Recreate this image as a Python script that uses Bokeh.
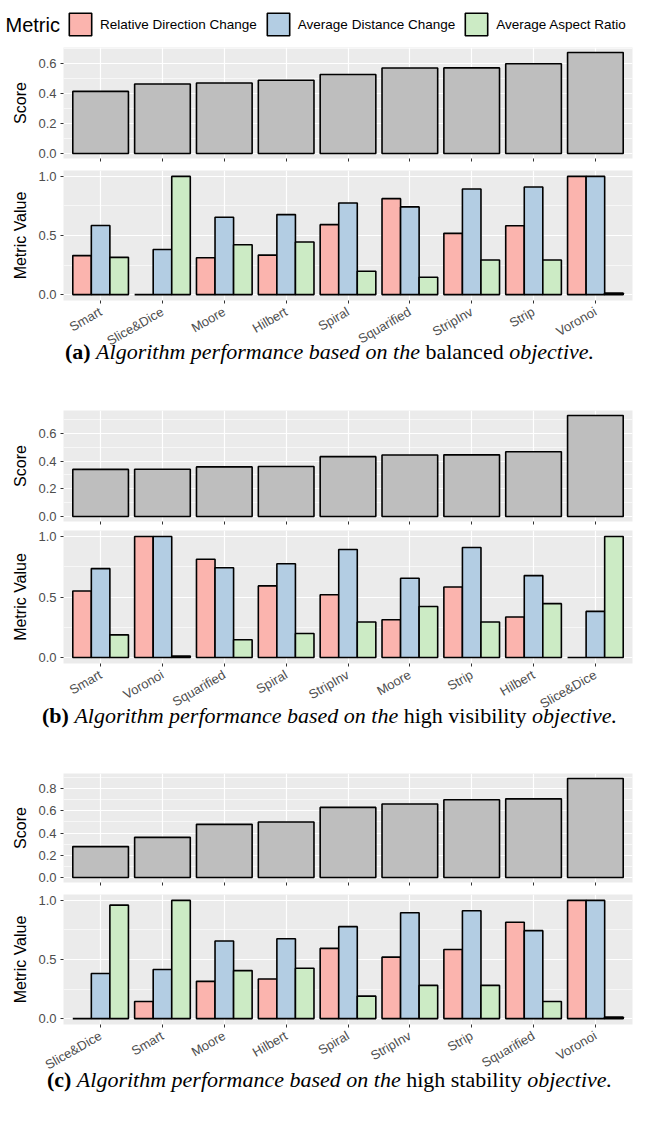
import math
from bokeh.plotting import figure
from bokeh.models import (ColumnDataSource, Range1d, FixedTicker, PrintfTickFormatter,
                          CustomJSTickFormatter, Legend, LegendItem, Div, Label)
from bokeh.layouts import column
from bokeh.transform import dodge
from bokeh.embed import file_html
from bokeh.resources import INLINE

metrics = ["Relative Direction Change", "Average Distance Change", "Average Aspect Ratio"]
metric_colors = ["#FBB4AE", "#B3CDE3", "#CCEBC5"]
metric_cols = ["rdc", "adc", "aar"]

# (a) balanced objective
cats_a = ["Smart", "Slice&Dice", "Moore", "Hilbert", "Spiral", "Squarified", "StripInv", "Strip", "Voronoi"]
score_a = [0.412, 0.461, 0.468, 0.486, 0.524, 0.567, 0.568, 0.596, 0.670]
rdc_a = [0.330, 0.0, 0.312, 0.334, 0.592, 0.812, 0.518, 0.583, 1.0]
adc_a = [0.585, 0.381, 0.655, 0.677, 0.775, 0.742, 0.893, 0.910, 1.0]
aar_a = [0.315, 1.0, 0.422, 0.445, 0.198, 0.147, 0.293, 0.293, 0.012]

# (b) high visibility objective
cats_b = ["Smart", "Voronoi", "Squarified", "Spiral", "StripInv", "Moore", "Strip", "Hilbert", "Slice&Dice"]
score_b = [0.340, 0.341, 0.358, 0.361, 0.432, 0.444, 0.445, 0.467, 0.729]
rdc_b = [0.550, 1.0, 0.812, 0.592, 0.518, 0.312, 0.583, 0.334, 0.0]
adc_b = [0.735, 1.0, 0.742, 0.775, 0.893, 0.655, 0.910, 0.677, 0.381]
aar_b = [0.187, 0.012, 0.147, 0.198, 0.293, 0.422, 0.293, 0.445, 1.0]

# (c) high stability objective
cats_c = ["Slice&Dice", "Smart", "Moore", "Hilbert", "Spiral", "StripInv", "Strip", "Squarified", "Voronoi"]
score_c = [0.278, 0.361, 0.478, 0.499, 0.630, 0.660, 0.699, 0.707, 0.890]
rdc_c = [0.0, 0.145, 0.315, 0.335, 0.594, 0.520, 0.585, 0.815, 1.0]
adc_c = [0.381, 0.415, 0.656, 0.676, 0.778, 0.895, 0.912, 0.744, 1.0]
aar_c = [0.960, 1.0, 0.406, 0.426, 0.190, 0.281, 0.281, 0.145, 0.012]

score_ticks_ab = [0.0, 0.2, 0.4, 0.6]
score_ticks_c = [0.0, 0.2, 0.4, 0.6, 0.8]
metric_ticks = [0.0, 0.5, 1.0]

captions = [
    ("(a)", "Algorithm performance based on the", "balanced", "objective."),
    ("(b)", "Algorithm performance based on the", "high visibility", "objective."),
    ("(c)", "Algorithm performance based on the", "high stability", "objective."),
]

FONT = "Liberation Sans"
W = 645
LEFT = 63
RIGHT = 13


def style_axes(p, ylabel, yticks, yminor, show_xlabels, cats):
    n = len(cats)
    pos = list(range(1, n + 1))
    for ax in (p.xaxis[0], p.yaxis[0]):
        ax.axis_line_color = None
        ax.major_tick_line_color = "#333333"
        ax.major_tick_line_width = 1
        ax.major_tick_out = 3
        ax.major_tick_in = 0
        ax.minor_tick_line_color = None
        ax.major_label_text_color = "#4D4D4D"
        ax.major_label_text_font = FONT
        ax.major_label_text_font_size = "13px"
    p.yaxis.ticker = FixedTicker(ticks=yticks, minor_ticks=yminor)
    p.yaxis.formatter = PrintfTickFormatter(format="%.1f")
    p.yaxis.major_label_standoff = 3
    p.yaxis.axis_label = ylabel
    p.yaxis.axis_label_text_font = FONT
    p.yaxis.axis_label_text_font_size = "16px"
    p.yaxis.axis_label_text_font_style = "normal"
    p.yaxis.axis_label_text_color = "black"
    p.yaxis.axis_label_standoff = 6
    p.xaxis.ticker = FixedTicker(ticks=pos)
    if show_xlabels:
        p.xaxis.major_label_overrides = {i + 1: c for i, c in enumerate(cats)}
        p.xaxis.major_label_orientation = math.pi / 6
        p.xaxis.major_label_standoff = 7
        p.xaxis.major_label_text_font_size = "13px"
    else:
        p.xaxis.formatter = CustomJSTickFormatter(code="return ''")
        p.xaxis.major_label_standoff = 0
    p.xgrid.ticker = FixedTicker(ticks=pos)
    p.ygrid.ticker = FixedTicker(ticks=yticks, minor_ticks=yminor)
    for g in (p.xgrid[0], p.ygrid[0]):
        g.grid_line_color = "white"
        g.grid_line_width = 1.2
    p.ygrid.minor_grid_line_color = "white"
    p.ygrid.minor_grid_line_width = 0.6


def make_fig(height, top, bottom, ymin, ymax):
    p = figure(width=W, height=height, x_range=Range1d(0.4, 9.6), y_range=Range1d(ymin, ymax),
               output_backend="svg", toolbar_location=None,
               min_border_left=LEFT, min_border_right=RIGHT,
               min_border_top=top, min_border_bottom=bottom)
    p.background_fill_color = "#EBEBEB"
    p.border_fill_color = "white"
    p.outline_line_color = None
    return p


def score_fig(cats, scores, yticks, height, top, bottom):
    smax = max(scores)
    p = make_fig(height, top, bottom, -0.05 * smax, 1.05 * smax)
    src = ColumnDataSource(dict(x=list(range(1, len(cats) + 1)), score=scores))
    p.vbar(x="x", top="score", bottom=0, width=0.9, source=src,
           fill_color="#BEBEBE", line_color="black", line_width=1.6)
    minor = [t + 0.1 for t in yticks]
    style_axes(p, "Score", yticks, minor, False, cats)
    return p


def metric_source(cats, rdc, adc, aar):
    return ColumnDataSource(dict(x=list(range(1, len(cats) + 1)), rdc=rdc, adc=adc, aar=aar))


def metric_fig(src, cats, height, top, bottom):
    p = make_fig(height, top, bottom, -0.05, 1.05)
    offsets = [-0.3, 0.0, 0.3]
    for col, color, off in zip(metric_cols, metric_colors, offsets):
        p.vbar(x=dodge("x", off, range=p.x_range), top=col, bottom=0, width=0.3, source=src,
               fill_color=color, line_color="black", line_width=1.6)
    style_axes(p, "Metric Value", metric_ticks, [0.25, 0.75], True, cats)
    return p


def caption_div(parts, height, shift):
    tag, ital, norm, ital2 = parts
    html = ('<div style="position:relative;top:%dpx;width:%dpx;box-sizing:border-box;padding-left:14px;'
            'text-align:center;white-space:nowrap;font-family:\'Liberation Serif\';font-size:22px;'
            'line-height:20px;color:black">'
            '<b>%s</b> <i>%s</i> %s <i>%s</i></div>') % (shift, W, tag, ital, norm, ital2)
    return Div(text=html, width=W, height=height, margin=0)


src_a = metric_source(cats_a, rdc_a, adc_a, aar_a)
src_b = metric_source(cats_b, rdc_b, adc_b, aar_b)
src_c = metric_source(cats_c, rdc_c, adc_c, aar_c)

# legend strip: hidden renderers sharing panel (a)'s data supply the legend swatches
lf = figure(width=W, height=42, output_backend="svg", toolbar_location=None,
            x_axis_location=None, y_axis_location=None,
            min_border_left=0, min_border_right=0, min_border_top=0, min_border_bottom=0,
            x_range=Range1d(0.4, 9.6), y_range=Range1d(2, 3))
lf.frame_align = False
lf.outline_line_color = None
lf.grid.visible = False
lrs = []
for col, c in zip(metric_cols, metric_colors):
    r = lf.vbar(x="x", top=col, bottom=0, width=0.3, source=src_a,
                fill_color=c, line_color="black", line_width=1.6)
    r.visible = False
    lrs.append(r)
legend = Legend(items=[LegendItem(label=m, renderers=[r]) for m, r in zip(metrics, lrs)],
                orientation="horizontal", location=(66, 4),
                label_text_font=FONT, label_text_font_size="13.5px", label_text_color="black",
                glyph_width=28, glyph_height=28, label_height=28, label_standoff=6,
                spacing=7, padding=0, margin=0,
                border_line_color=None, background_fill_alpha=0)
lf.add_layout(legend)
lf.add_layout(Label(x=5, y=18, x_units="screen", y_units="screen", text="Metric",
                    text_font=FONT, text_font_size="20px", text_color="black",
                    text_baseline="middle", text_align="left"))

sa = score_fig(cats_a, score_a, score_ticks_ab, 124, 5, 8)
ma = metric_fig(src_a, cats_a, 196, 4, 62)
ca = caption_div(captions[0], 20, -20)
sb = score_fig(cats_b, score_b, score_ticks_ab, 144, 28, 5)
mb = metric_fig(src_b, cats_b, 199, 4, 62)
cb = caption_div(captions[1], 20, -19)
sc = score_fig(cats_c, score_c, score_ticks_c, 142, 28, 5)
mc = metric_fig(src_c, cats_c, 199, 7, 62)
cc = caption_div(captions[2], 16, -16)

layout = column(lf, sa, ma, ca, sb, mb, cb, sc, mc, cc, spacing=0)
open("out.html", "w").write(file_html(layout, INLINE))
